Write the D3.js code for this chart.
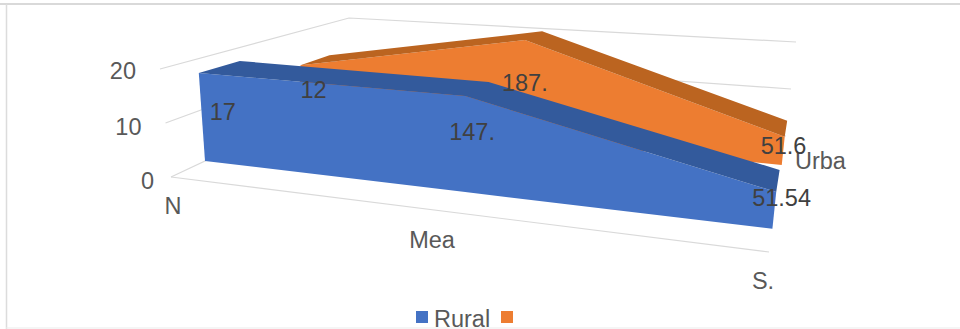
<!DOCTYPE html>
<html>
<head>
<meta charset="utf-8">
<script src="https://cdn.jsdelivr.net/npm/d3@7/dist/d3.min.js"></script>
<style>
  html, body { margin: 0; padding: 0; background: #fff; }
  svg { display: block; }
  text { font-family: "Liberation Sans", Arial, sans-serif; font-size: 23.5px; }
</style>
</head>
<body>
<svg id="chart" width="960" height="329"></svg>
<script>
// Chart data
const categories = ["N", "Mea", "S."];
const seriesNames = ["Rural", ""];
const ruralValues = [172, 147, 51.54];
const urbanValues = [120, 187, 51.6];
const ruralLabels = ["17", "147.", "51.54"];
const urbanLabels = ["12", "187.", "51.6"];
const valueTicks = [0, 100, 200];
const valueTickLabels = ["0", "10", "20"];
const depthLabel = "Urba";

const svg = d3.select("#chart");

// Box corners of the 3D plot on screen: floor and ceiling, front and back
const box = {
  floor: { fl: [171, 177], fr: [769, 252], bl: [341, 97], br: [786, 136] },
  top:   { fl: [160, 69],  fr: [785, 97],  bl: [349, 18], br: [796, 42] }
};

// Normalised axes: along the categories, up the values, back through the depth
const u = d3.scaleOrdinal(categories, [0, 0.455, 1]);
const t = d3.scaleLinear().domain([0, 200]).range([0, 1]);
const depth = { rural: [0.2, 0.42], urban: [0.75, 0.91] };

function plane(c, a, b) {
  const front = d3.interpolateArray(c.fl, c.fr)(a);
  const back = d3.interpolateArray(c.bl, c.br)(a);
  return d3.interpolateArray(front, back)(b);
}
// Projection from (category position, depth, value) to the screen; the ceiling
// position is eased so that heights grow towards the near end of the box
function project(a, b, value) {
  const bottom = plane(box.floor, a, b);
  const ceiling = plane(box.top, Math.pow(a, 3), b);
  ceiling[0] = plane(box.top, a, b)[0];
  return d3.interpolateArray(bottom, ceiling)(t(value));
}
const path = d3.line();

// Frame: top, left and bottom rules
const frame = [
  [[0, 4], [960, 4], "#d9d9d9", 1.8],
  [[6.5, 4], [6.5, 329], "#dcdcdc", 1.5],
  [[6, 328], [960, 328], "#ececec", 1.2]
];
frame.forEach(([a, b, color, w]) => {
  svg.append("path").attr("d", path([a, b])).attr("stroke", color).attr("stroke-width", w).attr("fill", "none");
});

// Walls and floor lines
const gridColor = "#d9d9d9";
valueTicks.forEach(v => {
  const pts = [project(0, 0, v), project(0, 1, v), project(1, 1, v)];
  svg.append("path").attr("d", path(pts)).attr("fill", "none")
    .attr("stroke", gridColor).attr("stroke-width", 1.2);
});
svg.append("path")
  .attr("d", path([project(0, 0, 0), project(1, 0, 0)]))
  .attr("fill", "none").attr("stroke", gridColor).attr("stroke-width", 1.2);

// One ribbon per series: front face and darker top face
function ribbon(values, [zf, zb], faceColor, topColor) {
  const xs = categories.map(c => u(c));
  const front = xs.map((a, i) => project(a, zf, values[i]));
  const back = xs.map((a, i) => project(a, zb, values[i]));
  const base = xs.map(a => project(a, zf, 0)).reverse();
  svg.append("path").attr("d", path(front.concat(base)) + "Z").attr("fill", faceColor);
  svg.append("path").attr("d", path(front.concat(back.slice().reverse())) + "Z").attr("fill", topColor);
}
ribbon(urbanValues, depth.urban, "#ed7d31", "#bb6420");
ribbon(ruralValues, depth.rural, "#4472c4", "#335a9c");

// Value ticks
const tickNudge = [[-17, 12], [-24, 12], [-24, 10]];
valueTicks.forEach((v, i) => {
  const p = project(0, 0, v);
  svg.append("text").attr("x", p[0] + tickNudge[i][0]).attr("y", p[1] + tickNudge[i][1])
    .attr("text-anchor", "end").attr("fill", "#595959").text(valueTickLabels[i]);
});

// Category labels
const categoryNudge = [2, -11, -6];
categories.forEach((c, i) => {
  const p = project(u(c), 0, 0);
  svg.append("text").attr("x", p[0] + categoryNudge[i]).attr("y", p[1] + 37)
    .attr("text-anchor", "middle").attr("fill", "#595959").text(c);
});

// Depth axis label
svg.append("text").attr("x", 795).attr("y", 169).attr("fill", "#595959").text(depthLabel);

// Value labels, nudged off their marks
const ruralNudge = [[11, 47], [-16, 44], [-24, 14]];
const urbanNudge = [[0, 33], [-23, 51], [-24, 17]];
function valueLabels(values, labels, z, nudge) {
  values.forEach((v, i) => {
    const p = project(u(categories[i]), z, v);
    svg.append("text").attr("x", p[0] + nudge[i][0]).attr("y", p[1] + nudge[i][1])
      .attr("fill", "#404040").text(labels[i]);
  });
}
valueLabels(urbanValues, urbanLabels, depth.urban[0], urbanNudge);
valueLabels(ruralValues, ruralLabels, depth.rural[0], ruralNudge);

// Legend
const legend = [[416, "#4472c4", 434], [501, "#ed7d31", 519]];
legend.forEach(([x, color, tx], i) => {
  svg.append("rect").attr("x", x).attr("y", 311).attr("width", 12).attr("height", 12).attr("fill", color);
  if (seriesNames[i]) {
    svg.append("text").attr("x", tx).attr("y", 327).attr("fill", "#595959").text(seriesNames[i]);
  }
});
</script>
</body>
</html>
